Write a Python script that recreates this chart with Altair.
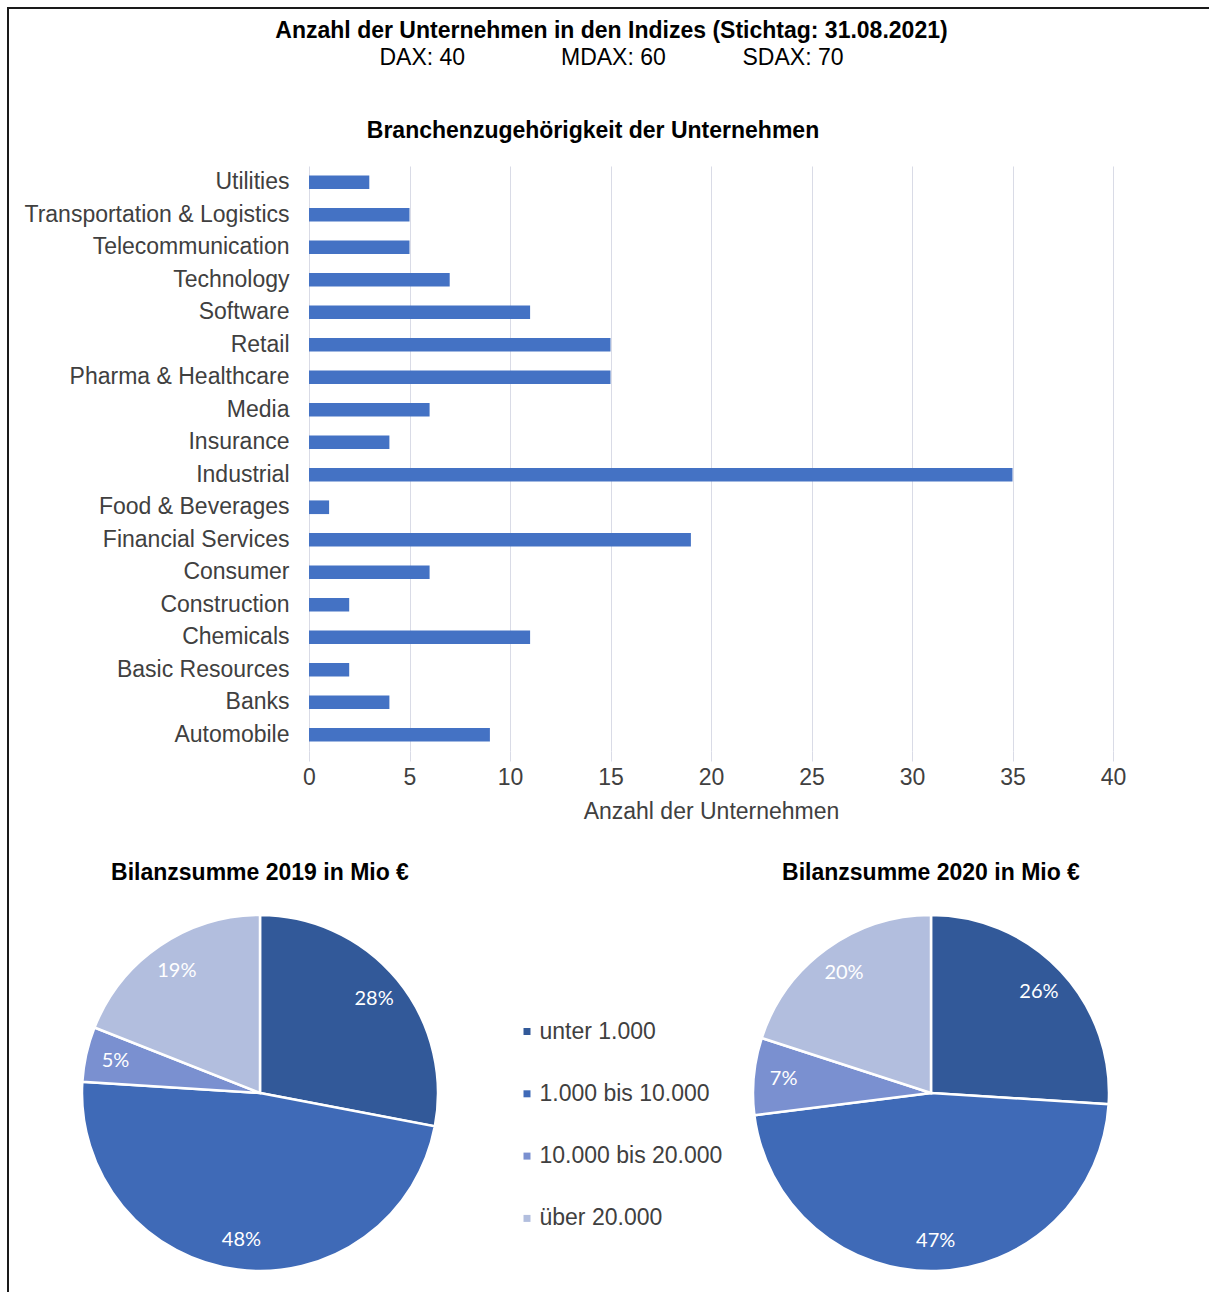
import altair as alt
import pandas as pd

# ---------------- data ----------------
categories = ["Utilities", "Transportation & Logistics", "Telecommunication", "Technology",
              "Software", "Retail", "Pharma & Healthcare", "Media", "Insurance", "Industrial",
              "Food & Beverages", "Financial Services", "Consumer", "Construction", "Chemicals",
              "Basic Resources", "Banks", "Automobile"]
counts = [3, 5, 5, 7, 11, 15, 15, 6, 4, 35, 1, 19, 6, 2, 11, 2, 4, 9]
x_ticks = [0, 5, 10, 15, 20, 25, 30, 35, 40]

size_classes = ["unter 1.000", "1.000 bis 10.000", "10.000 bis 20.000", "über 20.000"]
share_2019 = [28, 48, 5, 19]
share_2020 = [26, 47, 7, 20]
class_colors = ["#325999", "#3f6ab7", "#7a90d0", "#b2bede"]

main_title = "Anzahl der Unternehmen in den Indizes (Stichtag: 31.08.2021)"
index_counts = ["DAX: 40", "MDAX: 60", "SDAX: 70"]
bar_title = "Branchenzugehörigkeit der Unternehmen"
x_title = "Anzahl der Unternehmen"
pie_titles = ["Bilanzsumme 2019 in Mio €", "Bilanzsumme 2020 in Mio €"]

FONT = "Liberation Sans"
TEXT = "#404040"
FS = 23
NB = "\u00a0"

# ---------------- bar chart ----------------
bar_df = pd.DataFrame({"Branche": categories, "Anzahl": counts})

bar = alt.Chart(bar_df).mark_bar(color="#4472C4").encode(
    x=alt.X("Anzahl:Q",
            scale=alt.Scale(domain=[0, 40], nice=False, range=[280, 1084]),
            axis=alt.Axis(values=x_ticks, title=x_title, grid=True, gridColor="#d9dbe6",
                          domain=False, ticks=True, tickColor="#d9dbe6", tickSize=10,
                          labelPadding=5, labelFontSize=FS, labelColor=TEXT, labelFont=FONT,
                          labelFlush=False,
                          titleFontSize=FS, titleFontWeight="normal", titleColor=TEXT,
                          titleFont=FONT, titlePadding=11, titleX=682)),
    y=alt.Y("Branche:N", sort=categories,
            scale=alt.Scale(paddingInner=0.58, paddingOuter=0.29),
            axis=alt.Axis(title=None, ticks=False, domain=False, labelAlign="right",
                          labelPadding=-260, labelFontSize=FS, labelColor=TEXT,
                          labelFont=FONT, labelLimit=500, grid=False)),
).properties(
    width=1084, height=585,
    title=alt.TitleParams(bar_title, fontSize=FS, font=FONT, fontWeight="bold", color="#000000",
                          anchor="middle", dx=22, offset=23.5),
)


# ---------------- pies ----------------
def pie(shares, title, width, with_frame=False):
    df = pd.DataFrame({
        "Klasse": size_classes,
        "Anteil": shares,
        "Ordnung": list(range(len(size_classes))),
        "Label": [f"{s}%" for s in shares],
    })
    base = alt.Chart(df).encode(
        theta=alt.Theta("Anteil:Q", stack=True),
        order=alt.Order("Ordnung:Q"),
    )
    arcs = base.mark_arc(outerRadius=178, stroke="white", strokeWidth=2.5).encode(
        color=alt.Color("Klasse:N",
                        scale=alt.Scale(domain=size_classes, range=class_colors),
                        legend=alt.Legend(orient="none", legendX=486.5, legendY=854,
                                          title=None, symbolType="square", symbolSize=49,
                                          symbolStrokeWidth=0, labelFontSize=FS,
                                          labelFont=FONT, labelColor=TEXT, rowPadding=38.3,
                                          labelOffset=1, padding=0, labelLimit=500)),
    )
    labels = base.mark_text(radius=148, font="Lato", fontSize=20, color="white").encode(
        text="Label:N",
        detail="Klasse:N",
    )
    layers = [arcs, labels]
    if with_frame:
        # invisible helper whose (empty, transparent) legend box draws the outer frame
        frame = alt.Chart(df).mark_point(opacity=0).encode(
            stroke=alt.Stroke(
                "Anteil:Q",
                scale=alt.Scale(range=["rgba(255,255,255,0)", "rgba(255,255,255,0)"]),
                legend=alt.Legend(orient="none", legendX=-21, legendY=-158, title=None,
                                  direction="vertical", gradientThickness=203,
                                  gradientLength=288, gradientStrokeWidth=0,
                                  labelOpacity=0, labelFontSize=1, labelOffset=0,
                                  padding=500, strokeColor="#1a1a1a"),
            ),
        )
        layers.append(frame)
    return alt.layer(*layers).properties(
        width=width, height=380,
        title=alt.TitleParams(title, fontSize=FS, font=FONT, fontWeight="bold",
                              color="#000000", anchor="middle", offset=18),
    )


pie1 = pie(share_2019, pie_titles[0], 462)
pie2 = pie(share_2020, pie_titles[1], 380, with_frame=True)

subtitle = index_counts[0] + NB * 15 + index_counts[1] + NB * 12 + index_counts[2]

pie_row = alt.hconcat(pie1, pie2, spacing=250)

chart = alt.concat(
    bar, pie_row,
    columns=1, align="none", spacing=39,
).properties(
    title=alt.TitleParams(main_title, subtitle=subtitle, fontSize=FS, subtitleFontSize=FS,
                          font=FONT, subtitleFont=FONT, fontWeight="bold", color="#000000",
                          subtitleColor="#000000", anchor="middle", dx=1, dy=63, offset=0,
                          subtitlePadding=4),
    padding={"left": 7, "top": 7, "right": -5, "bottom": -5},
    background="white",
).configure_view(stroke=None).configure_legend(strokeWidth=2)

chart.save("out.html", embed_options={"renderer": "svg", "actions": False})
